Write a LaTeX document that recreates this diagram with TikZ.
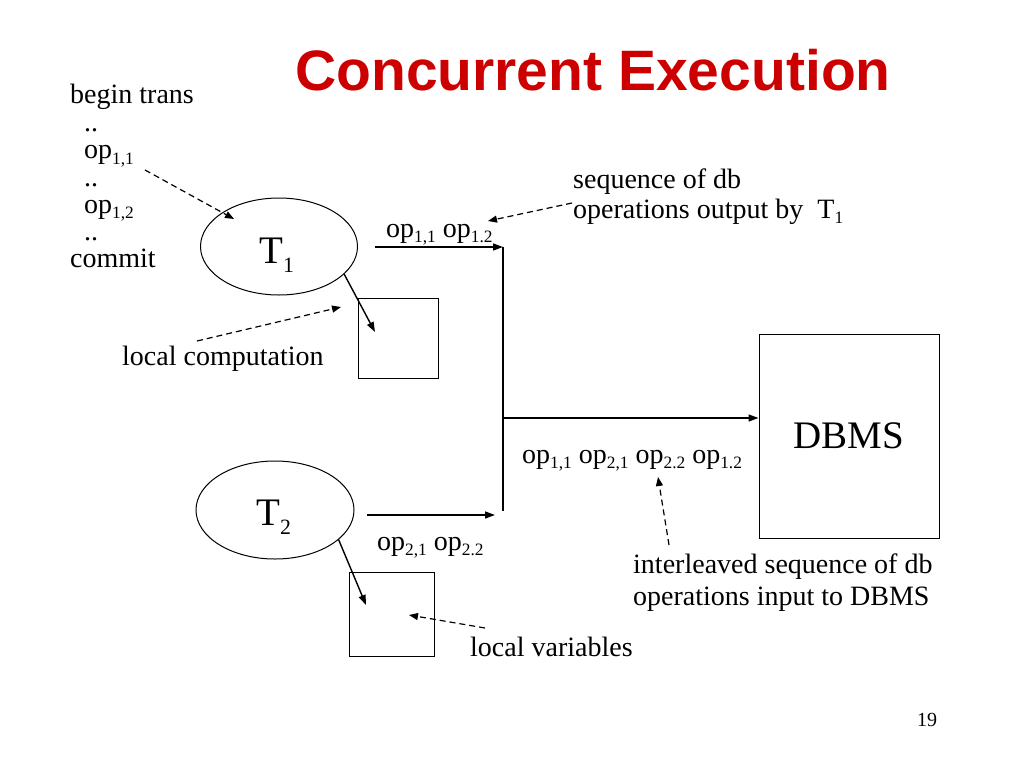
\documentclass[tikz,border=0pt]{standalone}
\usepackage{fontspec}
\usepackage{graphicx}
\setmainfont{Liberation Serif}
\newfontfamily\titlefont{Liberation Sans}
\usetikzlibrary{arrows.meta,shapes.geometric}
\definecolor{titlered}{RGB}{204,0,0}
\newcommand\sbs[1]{\raisebox{-0.21em}{\scalebox{0.62}{#1}}}
\newcommand\sbt[1]{\raisebox{-0.24em}{\scalebox{0.56}{#1}}}
\newcommand\bodyfont{\fontsize{28}{30}\selectfont}
\newcommand\bigfont{\fontsize{39}{42}\selectfont}
\tikzset{
  txt/.style={anchor=base west, inner sep=0pt, font=\bodyfont},
  bigtxt/.style={anchor=base west, inner sep=0pt, font=\bigfont},
  tnode/.style={ellipse, draw, line width=1pt, inner sep=0pt},
  boxnode/.style={rectangle, draw, line width=1pt, inner sep=0pt},
  flow/.style={line width=1.4pt, -{Triangle[length=10pt,width=7pt]}},
  plain/.style={line width=1.4pt},
  note/.style={line width=1.2pt, dash pattern=on 6pt off 4pt, -{Triangle[length=9pt,width=7pt]}}
}
\begin{document}
\begin{tikzpicture}[x=1pt,y=-1pt]
\useasboundingbox (0,0) rectangle (1024,768);

% title
\node[anchor=base, inner sep=0pt, text=titlered, font=\titlefont\bfseries\fontsize{57}{60}\selectfont] (title) at (593,90) {Concurrent Execution};

% left transaction listing
\node[txt] (l1) at (70,103) {begin trans};
\node[txt] (l2) at (84,131) {..};
\node[txt] (l3) at (84,158.5) {op\sbs{1,1}};
\node[txt] (l4) at (84,186) {..};
\node[txt] (l5) at (84,213) {op\sbs{1,2}};
\node[txt] (l6) at (84,240.5) {..};
\node[txt] (l7) at (70,267) {commit};

% transactions
\node[tnode, minimum width=157pt, minimum height=97pt] (T1) at (279,246.5) {};
\node[bigtxt] (T1l) at (259,263) {T\sbt{1}};
\node[tnode, minimum width=158pt, minimum height=98pt] (T2) at (275,510) {};
\node[bigtxt] (T2l) at (256,525) {T\sbt{2}};

% local boxes
\node[boxnode, minimum width=80pt, minimum height=80pt] (B1) at (398,338) {};
\node[boxnode, minimum width=85pt, minimum height=84pt] (B2) at (391.5,614) {};

% DBMS
\node[boxnode, minimum width=180pt, minimum height=204pt, font=\bigfont] (DB) at (849,436) {DBMS};

% flow coordinates
\coordinate (a1s) at (375,247);
\coordinate (j1) at (503,247);
\coordinate (j2) at (503,511);
\coordinate (a2s) at (367,515);
\coordinate (a2e) at (495,515);
\coordinate (j3) at (503,418);
\coordinate (b1t) at (375,332);
\coordinate (b2t) at (366,605);

\draw[flow] (a1s) -- (j1);
\draw[plain] (j1) -- (j2);
\draw[flow] (a2s) -- (a2e);
\draw[flow] (j3) -- (j3 -| DB.west);
\draw[flow] (T1.-23) -- (b1t);
\draw[flow] (T2.-25) -- (b2t);

% stream labels
\node[txt] (s1) at (386,237) {op\sbs{1,1} op\sbs{1.2}};
\node[txt] (s2) at (377,550) {op\sbs{2,1} op\sbs{2.2}};
\node[txt] (s3) at (522,463) {op\sbs{1,1} op\sbs{2,1} op\sbs{2.2} op\sbs{1.2}};

% annotations
\node[txt] (seq1) at (573,188) {sequence of db};
\node[txt] (seq2) at (573,218) {operations output by\ \ T\sbs{1}};
\node[txt] (lc) at (122,365) {local computation};
\node[txt] (il1) at (633,573) {interleaved sequence of db};
\node[txt] (il2) at (633,605) {operations input to DBMS};
\node[txt] (lv) at (470,656) {local variables};
\node[anchor=base west, inner sep=0pt, font=\fontsize{20}{22}\selectfont] (pg) at (917,726) {19};

% dashed pointers
\coordinate (d1s) at (145,170);
\coordinate (d1e) at (234,219);
\coordinate (d2s) at (197,341);
\coordinate (d2e) at (341,307);
\coordinate (d3s) at (572,203);
\coordinate (d3e) at (488,221);
\coordinate (d4s) at (669,545);
\coordinate (d4e) at (658,477);
\coordinate (d5s) at (485,628);
\coordinate (d5e) at (409,615);
\draw[note] (d1s) -- (d1e);
\draw[note] (d2s) -- (d2e);
\draw[note] (d3s) -- (d3e);
\draw[note] (d4s) -- (d4e);
\draw[note] (d5s) -- (d5e);
\end{tikzpicture}
\end{document}
